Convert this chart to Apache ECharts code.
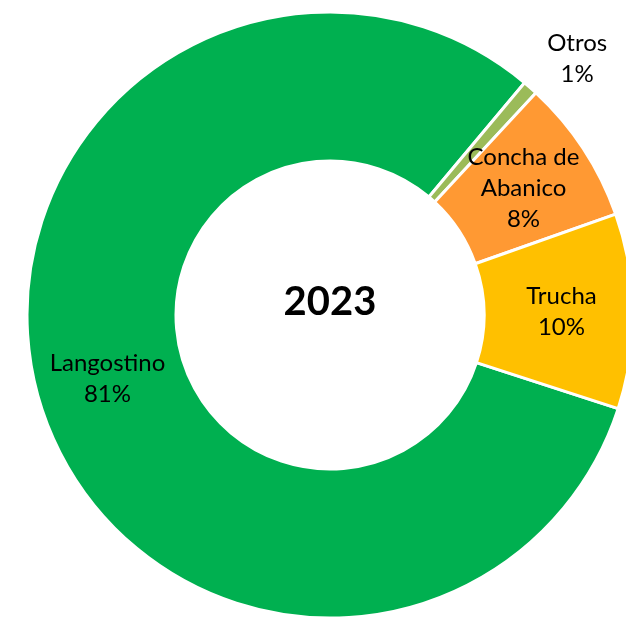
<!DOCTYPE html>
<html>
<head>
<meta charset="utf-8">
<script src="https://cdn.jsdelivr.net/npm/echarts@6/dist/echarts.min.js"></script>
<style>
  html, body { margin: 0; padding: 0; background: #fff; }
  #main { width: 626px; height: 617px; }
</style>
</head>
<body>
<div id="main"></div>
<script>
// datos del grafico (porcentaje por especie, 2023)
var especies = ['Langostino', 'Otros', 'Concha de\nAbanico', 'Trucha'];
var valores = [81.1, 0.8, 7.7, 10.4];
var colores = ['#00B050', '#9BBB59', '#FF9933', '#FFC000'];
var anio = '2023';

var myChart = echarts.init(document.getElementById('main'));

var datos = especies.map(function (n, i) {
    var d = { name: n, value: valores[i], itemStyle: { color: colores[i] } };
    if (n === 'Otros') {
        d.label = { position: 'outside', distanceToLabelLine: 0 };
        d.labelLine = { show: false, length: 39, length2: -9 };
    }
    return d;
});

var option = {
    backgroundColor: '#fff',
    animation: false,
    title: {
        text: anio,
        left: 330,
        top: 302,
        textAlign: 'center',
        textVerticalAlign: 'middle',
        padding: 0,
        textStyle: { fontFamily: 'Lato', fontWeight: 'bold', fontSize: 40, color: '#000' }
    },
    series: [{
        type: 'pie',
        center: [330, 315],
        radius: [154, 303],
        startAngle: -18,
        clockwise: true,
        avoidLabelOverlap: false,
        percentPrecision: 0,
        itemStyle: { borderColor: '#fff', borderWidth: 3 },
        label: {
            show: true,
            position: 'inside',
            formatter: '{b}\n{d}%',
            color: '#000',
            fontFamily: 'Lato',
            fontSize: 24,
            lineHeight: 31,
            align: 'center'
        },
        // la etiqueta de Otros va fuera, centrada
        labelLayout: function (p) {
            if (p.dataIndex === 1) {
                return { align: 'center', dx: p.labelRect.width / 2 };
            }
        },
        emphasis: { disabled: true },
        data: datos
    }]
};
myChart.setOption(option);
</script>
</body>
</html>
